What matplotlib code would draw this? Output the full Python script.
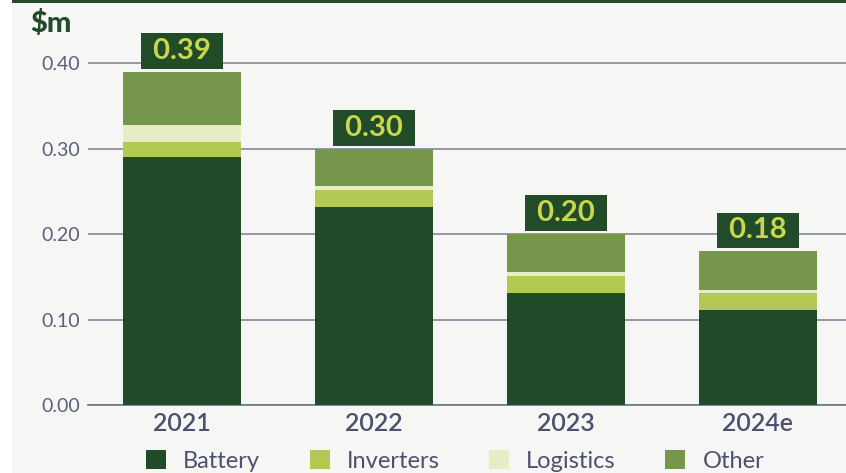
import matplotlib.pyplot as plt
import numpy as np

plt.rcParams['font.family'] = ['Lato', 'DejaVu Sans']

years = ['2021', '2022', '2023', '2024e']
battery = [0.290, 0.232, 0.131, 0.111]
inverters = [0.018, 0.019, 0.020, 0.020]
logistics = [0.020, 0.005, 0.004, 0.004]
other = [0.062, 0.044, 0.045, 0.045]
totals = [0.39, 0.30, 0.20, 0.18]
series = [('Battery', battery, '#204b29'),
          ('Inverters', inverters, '#b2ca54'),
          ('Logistics', logistics, '#e7eec5'),
          ('Other', other, '#76964b')]

bg = '#f6f6f4'
dark = '#214b29'
axis_col = '#5b5f7a'

fig = plt.figure(figsize=(8.46, 4.73), dpi=100)
fig.patch.set_facecolor('white')
# panel background and top rule
fig.patches.append(plt.Rectangle((12 / 846, 0), 1, 1, transform=fig.transFigure,
                                 facecolor=bg, edgecolor='none', zorder=-10))
fig.patches.append(plt.Rectangle((12 / 846, 1 - 3 / 473), 1, 3 / 473, transform=fig.transFigure,
                                 facecolor=dark, edgecolor='none', zorder=-9))

ax = fig.add_axes([88 / 846, 68 / 473, 1 - 88 / 846, 405 / 473])
ax.set_facecolor('none')

x = np.arange(len(years))
bottom = np.zeros(len(years))
for name, vals, col in series:
    ax.bar(x, vals, bottom=bottom, width=0.615, color=col, label=name, zorder=3)
    bottom += np.array(vals)

for xi, t in zip(x, totals):
    ax.annotate(f' {t:.2f} ', (xi, t), xytext=(0, 5.5), textcoords='offset points',
                ha='center', va='bottom', fontsize=21, fontweight='bold', color='#c9d74d',
                bbox=dict(boxstyle='square,pad=0.17', facecolor=dark, edgecolor='none'),
                zorder=5)

ax.set_xlim(-0.49, 3.46)
ax.set_ylim(0, 405 / 855)
ax.set_yticks([0, 0.1, 0.2, 0.3, 0.4])
ax.set_yticklabels(['0.00', '0.10', '0.20', '0.30', '0.40'])
ax.yaxis.grid(True, color='#7a7d92', linewidth=1.1, zorder=1)
ax.set_xticks(x)
ax.set_xticklabels(years, fontsize=18, fontweight='semibold', color='#4d5170')
ax.tick_params(axis='y', length=0, pad=6, labelsize=14, labelcolor=axis_col)
ax.tick_params(axis='x', length=0, pad=5)
for s in ['top', 'right', 'left']:
    ax.spines[s].set_visible(False)
ax.spines['bottom'].set_color('#6e7189')
ax.spines['bottom'].set_linewidth(1.2)

fig.text(30 / 846, 1 - 10 / 473, '$m', fontsize=21, fontweight='black', color=dark,
         ha='left', va='top')

fig.legend(loc='center', bbox_to_anchor=(455 / 846, 12 / 473), ncol=4, frameon=False,
           fontsize=17, handlelength=0.85, handleheight=0.85, handletextpad=0.72,
           columnspacing=2.1, labelcolor='#4d5170')

fig.savefig('out.png', dpi=100, facecolor=fig.get_facecolor())
